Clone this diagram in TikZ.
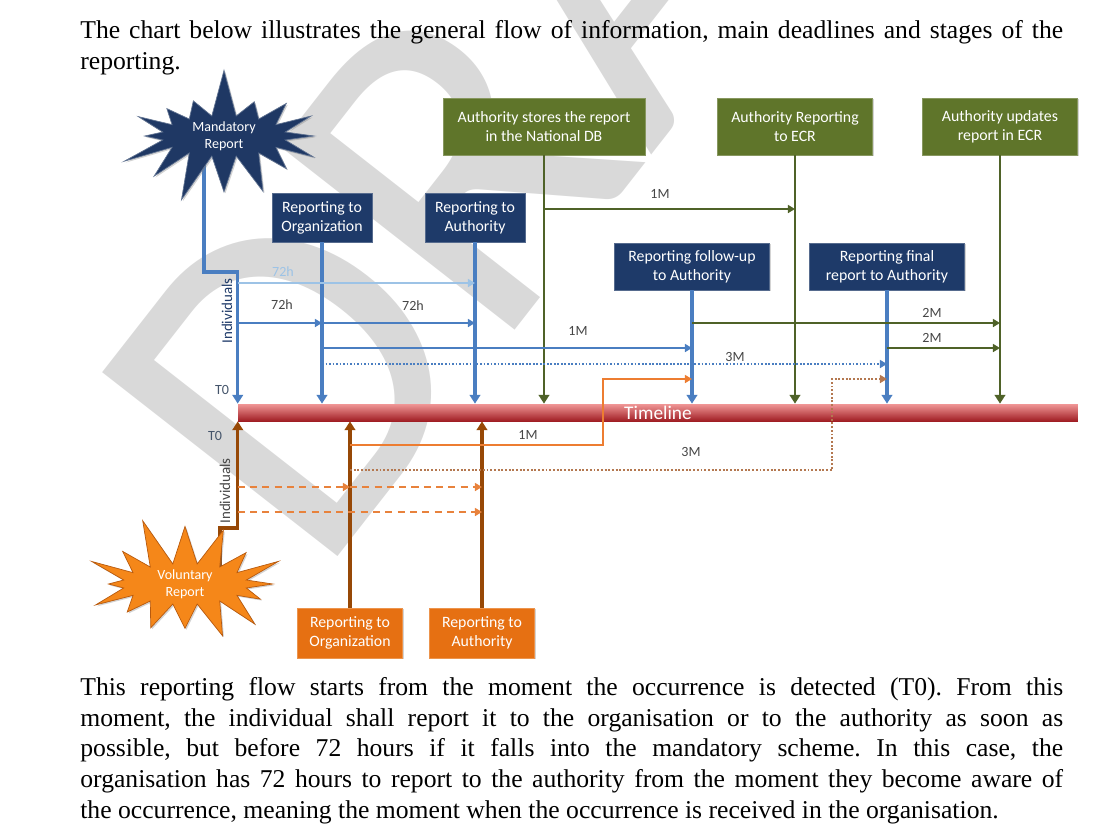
\documentclass[tikz,border=0pt]{standalone}
\usepackage{fontspec}
\setmainfont{Liberation Serif}
\newfontfamily\diagfont{Carlito}
\usetikzlibrary{arrows.meta, shapes.symbols, shadows, positioning}
\pgfdeclarelayer{wmark}
\pgfdeclarelayer{lines}
\pgfsetlayers{wmark,lines,main}

\definecolor{navybox}{RGB}{30,58,105}
\definecolor{greenbox}{RGB}{95,117,42}
\definecolor{orangebox}{RGB}{230,112,18}
\definecolor{blueline}{RGB}{74,126,193}
\definecolor{lightline}{RGB}{157,195,230}
\definecolor{greenline}{RGB}{79,98,40}
\definecolor{brownline}{RGB}{151,72,6}
\definecolor{orangeline}{RGB}{237,125,49}
\definecolor{dashline}{RGB}{232,130,60}
\definecolor{dotline}{RGB}{180,120,80}
\definecolor{labelgray}{RGB}{70,70,70}
\definecolor{tzero}{RGB}{68,84,106}
\definecolor{starnavy}{RGB}{31,56,100}
\definecolor{starorange}{RGB}{245,135,25}
\definecolor{bartop}{RGB}{240,150,150}
\definecolor{barmid}{RGB}{214,52,58}
\definecolor{barbot}{RGB}{160,30,36}

\begin{document}
\frenchspacing
\begin{tikzpicture}[x=0.02cm, y=-0.02cm,
  every node/.style={font=\diagfont},
  para/.style={font=\rmfamily\fontsize{14.6}{17.5}\selectfont, text width=19.66cm,
    align=justify, inner sep=0pt, anchor=north west},
  boxshadow/.style={drop shadow={shadow xshift=.8pt, shadow yshift=-.8pt, opacity=.35}},
  bluebox/.style={fill=navybox, draw=navybox!75!white, text=white, align=center, inner sep=0pt,
    minimum width=2cm, minimum height=0.98cm, boxshadow,
    font=\diagfont\fontsize{9}{10.8}\selectfont},
  widebox/.style={minimum width=3.1cm, minimum height=0.94cm},
  greenbox/.style={fill=greenbox, draw=greenbox!75!white, text=white, align=center, inner sep=0pt,
    minimum width=3.1cm, minimum height=1.14cm, boxshadow,
    font=\diagfont\fontsize{9}{10.8}\selectfont},
  orangebox/.style={fill=orangebox, draw=orangebox!75!white, text=white, align=center, inner sep=0pt,
    minimum width=2.1cm, minimum height=1cm, boxshadow,
    font=\diagfont\fontsize{9}{10.8}\selectfont},
  burst/.style={starburst, starburst points=16, starburst point height=1cm, boxshadow,
    minimum width=4.5cm, minimum height=2.45cm, inner sep=0pt, text=white, align=center,
    font=\diagfont\fontsize{8}{9.6}\selectfont},
  timeline/.style={minimum width=16.8cm, minimum height=0.34cm, inner sep=0pt,
    top color=bartop, middle color=barmid, bottom color=barbot,
    text=white, font=\diagfont\fontsize{11}{11}\selectfont},
  lbl/.style={text=labelgray, inner sep=0pt, font=\diagfont\fontsize{8}{8}\selectfont},
  indiv/.style={rotate=90, inner sep=0pt, font=\diagfont\fontsize{8.5}{8.5}\selectfont},
  wmark/.style={text=black!15, inner sep=0pt, font=\diagfont\fontsize{265}{265}\selectfont},
  tipbig/.style={-{Triangle[length=5pt, width=6pt]}},
  tipsmall/.style={-{Triangle[length=4pt, width=4.5pt]}},
  bthick/.style={draw=blueline, line width=1.8pt},
  bthin/.style={draw=blueline, line width=1pt},
  gthick/.style={draw=greenline, line width=1.5pt},
  gthin/.style={draw=greenline, line width=1.1pt},
  othick/.style={draw=brownline, line width=1.8pt},
  othin/.style={draw=orangeline, line width=1.1pt},
  odash/.style={draw=dashline, line width=1.1pt, dash pattern=on 4pt off 3pt},
  odot/.style={draw=dotline, line width=1.1pt, densely dotted},
]
\useasboundingbox (0,0) rectangle (1107,836);

% watermark
\begin{pgfonlayer}{wmark}
\node[wmark, rotate=52, anchor=base west] (draft) at (318,582) {DRAFT};
\end{pgfonlayer}

% page text
\node[para] (intro) at (80,20) {The chart below illustrates the general flow of information, main deadlines and stages of the\linebreak reporting.};
\node[para] (outro) at (80,677) {This reporting flow starts from the moment the occurrence is detected (T0). From this\linebreak moment, the individual shall report it to the organisation or to the authority as soon as\linebreak possible, but before 72 hours if it falls into the mandatory scheme. In this case, the\linebreak organisation has 72 hours to report to the authority from the moment they become aware of\linebreak the occurrence, meaning the moment when the occurrence is received in the organisation.};

% timeline
\node[timeline] (tl) at (658,412.5) {Timeline};

% stars
\node[burst, random starburst=7, fill=starnavy, draw=starnavy!70!white] (mrep) at (224,136) {Mandatory\\Report};
\node[burst, random starburst=11, fill=starorange, draw=orangebox!80!black] (vrep) at (185,584) {Voluntary\\Report};

% boxes
\node[greenbox, minimum width=4.04cm] (store) at (544,126.5) {Authority stores the report\\in the National DB};
\node[greenbox] (ecr) at (795,126.5) {Authority Reporting\\to ECR};
\node[greenbox] (upd) at (1000,126.5) {Authority updates\\report in ECR};
\node[bluebox] (rorg) at (322,217.5) {Reporting to\\Organization};
\node[bluebox] (rauth) at (475,217.5) {Reporting to\\Authority};
\node[bluebox, widebox] (rfup) at (692,266.5) {Reporting follow-up\\to Authority};
\node[bluebox, widebox] (rfin) at (887,266.5) {Reporting final\\report to Authority};
\node[orangebox] (oorg) at (350,633) {Reporting to\\Organization};
\node[orangebox] (oauth) at (482,633) {Reporting to\\Authority};

% side labels
\node[lbl, text=tzero] (t0up) at (222,390) {T0};
\node[lbl, text=tzero] (t0dn) at (215,436) {T0};
\node[indiv, text=navybox] (indup) at (227,311) {Individuals};
\node[indiv, text=labelgray] (inddn) at (225,491) {Individuals};

% levels
\coordinate (mbend) at (204,272);
\coordinate (vbend) at (220,528);
\coordinate (ya) at (0,283);
\coordinate (yb) at (0,323);
\coordinate (yc) at (0,348);
\coordinate (yd) at (0,364);
\coordinate (ye) at (0,209);
\coordinate (yf) at (0,379);
\coordinate (yg) at (0,445);
\coordinate (yh) at (0,470);
\coordinate (yi) at (0,487);
\coordinate (yj) at (0,512);
\coordinate (kink1) at (603,379);
\coordinate (kink2) at (832,379);

\begin{pgfonlayer}{lines}
\draw[bthick, tipbig] (mbend |- mrep.center) -- (mbend) -| (tl.north west);
\draw[othick, tipbig] (vbend |- vrep.center) -- (vbend) -| (tl.south west);
\end{pgfonlayer}

% down to the timeline
\foreach \b in {rorg, rauth, rfup, rfin}
  \draw[bthick, tipbig] (\b.south) -- (\b.south |- tl.north);
\foreach \g in {store, ecr, upd}
  \draw[gthick, tipbig] (\g.south) -- (\g.south |- tl.north);
\foreach \o in {oorg, oauth}
  \draw[othick, tipbig] (\o.north) -- (\o.north |- tl.south);

% deadlines above
\draw[draw=lightline, line width=1pt, tipsmall] (tl.north west |- ya) -- (rauth.south |- ya);
\draw[bthin, tipsmall] (tl.north west |- yb) -- (rorg.south |- yb);
\draw[bthin, tipsmall] (rorg.south |- yb) -- (rauth.south |- yb);
\draw[bthin, tipsmall] (rorg.south |- yc) -- (rfup.south |- yc);
\draw[bthin, densely dotted, tipsmall] (rorg.south |- yd) -- (rfin.south |- yd);
\draw[gthin, tipsmall] (store.south |- ye) -- (ecr.south |- ye);
\draw[gthin, tipsmall] (rfup.south |- yb) -- (upd.south |- yb);
\draw[gthin, tipsmall] (rfin.south |- yc) -- (upd.south |- yc);

% deadlines below
\draw[othin, tipsmall] (oorg.north |- yg) -| (kink1) -- (rfup.south |- yf);
\draw[odot, tipsmall] (oorg.north |- yh) -| (kink2) -- (rfin.south |- yf);
\draw[odash, tipsmall] (tl.south west |- yi) -- (oorg.north |- yi);
\draw[odash, tipsmall] (oorg.north |- yi) -- (oauth.north |- yi);
\draw[odash, tipsmall] (tl.south west |- yj) -- (oauth.north |- yj);

% deadline labels
\node[lbl, text=lightline] (h1) at (283,272) {72h};
\node[lbl] (h2) at (282,305) {72h};
\node[lbl] (h3) at (413,306) {72h};
\node[lbl] (m1) at (578,331) {1M};
\node[lbl] (m3) at (735,357) {3M};
\node[lbl] (m1g) at (660,194) {1M};
\node[lbl] (m2a) at (932,313) {2M};
\node[lbl] (m2b) at (932,338) {2M};
\node[lbl] (m1o) at (528,435) {1M};
\node[lbl] (m3o) at (691,452) {3M};
\end{tikzpicture}
\end{document}
